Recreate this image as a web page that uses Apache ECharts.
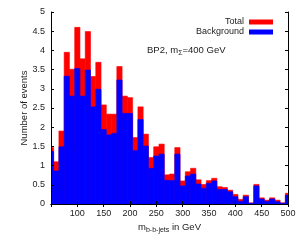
<!DOCTYPE html>
<html>
<head>
<meta charset="utf-8">
<script src="https://cdn.jsdelivr.net/npm/echarts@6/dist/echarts.min.js"></script>
<style>
html,body{margin:0;padding:0;background:#fff;}
#c{width:300px;height:245px;}
</style>
</head>
<body>
<div id="c"></div>
<script>
// Bin centres (GeV), bin width 10 GeV
const binCenters = [50,60,70,80,90,100,110,120,130,140,150,160,170,180,190,200,210,220,230,240,250,260,270,280,290,300,310,320,330,340,350,360,370,380,390,400,410,420,430,440,450,460,470,480,490,500];
const totalEvents = [1.47,1.10,1.90,3.95,3.51,4.60,3.78,4.49,3.32,3.69,2.58,2.34,2.34,3.58,2.81,2.77,1.73,2.53,1.82,1.21,1.49,1.56,0.76,0.78,1.47,0.60,0.84,0.93,0.63,0.51,0.61,0.67,0.45,0.43,0.36,0.25,0.12,0.23,0.03,0.51,0.16,0.10,0.16,0.10,0.03,0.28];
const backgroundEvents = [1.37,0.86,1.49,3.33,2.81,3.53,2.81,3.49,2.53,2.99,1.94,1.80,1.84,3.23,2.36,2.36,1.39,2.20,1.51,0.93,1.25,1.30,0.62,0.61,1.30,0.47,0.73,0.78,0.52,0.41,0.54,0.60,0.38,0.38,0.32,0.19,0.07,0.19,0.02,0.47,0.13,0.07,0.13,0.06,0.02,0.23];
const binWidth = 10;
const xMin = 50, xMax = 500, yMin = 0, yMax = 5;

const chart = echarts.init(document.getElementById('c'), null, {renderer:'canvas'});
const FONT = 'Liberation Sans, Arial, Helvetica, sans-serif';

function histItem(color){
  return function(params, api){
    const c = api.value(0), v = api.value(1);
    const x0 = Math.max(c - binWidth/2, xMin);
    const x1 = Math.min(c + binWidth/2, xMax);
    const p0 = api.coord([x0, v]);
    const p1 = api.coord([x1, 0]);
    return {type:'rect', shape:{x:p0[0], y:p0[1], width:p1[0]-p0[0], height:p1[1]-p0[1]},
            style:{fill:color, stroke:color, lineWidth:0.6}};
  };
}

const axisLineStyle = {show:true, lineStyle:{color:'#000', width:1}};
const tickStyle = {show:true, inside:true, length:3, lineStyle:{color:'#000', width:1}};

chart.setOption({
  animation:false,
  backgroundColor:'#fff',
  textStyle:{fontFamily:FONT},
  grid:{left:51, right:12, top:12, bottom:41, containLabel:false},
  legend:{
    orient:'vertical', right:22, top:12, align:'right',
    itemWidth:24, itemHeight:5, itemGap:0,
    icon:'rect',
    textStyle:{fontSize:9, color:'#222', fontFamily:FONT, lineHeight:10, padding:[0,0,0,0]},
    data:['Total','Background']
  },
  xAxis:[
    {type:'value', min:xMin, max:xMax, interval:50, position:'bottom', z:10,
     axisLine:axisLineStyle, axisTick:tickStyle, splitLine:{show:false},
     axisLabel:{color:'#222', fontSize:9, margin:5, fontFamily:FONT, formatter:v => v===50 ? '' : String(v)},
     name:'{m|m}{s|b-b-jets}{m| in GeV}', nameLocation:'middle', nameGap:18, nameMoveOverlap:false,
     nameTextStyle:{rich:{
       m:{fontSize:9.5, color:'#222', fontFamily:FONT, verticalAlign:'top', lineHeight:11},
       s:{fontSize:7, color:'#222', fontFamily:FONT, verticalAlign:'top', lineHeight:11, padding:[5,0,0,0]}
     }}},
    {type:'value', min:xMin, max:xMax, interval:50, position:'top', z:10,
     axisLine:axisLineStyle, axisTick:tickStyle, splitLine:{show:false}, axisLabel:{show:false}}
  ],
  yAxis:[
    {type:'value', min:yMin, max:yMax, interval:0.5, position:'left', z:10,
     axisLine:axisLineStyle, axisTick:tickStyle, splitLine:{show:false},
     axisLabel:{color:'#222', fontSize:9, margin:6, fontFamily:FONT},
     name:'Number of events', nameLocation:'middle', nameRotate:90, nameGap:22, nameMoveOverlap:false,
     nameTextStyle:{fontSize:9.5, color:'#222', fontFamily:FONT}},
    {type:'value', min:yMin, max:yMax, interval:0.5, position:'right', z:10,
     axisLine:axisLineStyle, axisTick:tickStyle, splitLine:{show:false}, axisLabel:{show:false}}
  ],
  graphic:[{
    type:'text', left:147, top:45, z:20,
    style:{
      text:'{a|BP2, m}{s|Σ}{a|=400 GeV}',
      rich:{
        a:{fontSize:9.5, fill:'#222', fontFamily:FONT, verticalAlign:'top', lineHeight:12},
        s:{fontSize:7, fill:'#222', fontFamily:FONT, verticalAlign:'top', lineHeight:12, padding:[5,0,0,0]}
      }
    }
  }],
  series:[
    {name:'Total', type:'custom', xAxisIndex:0, yAxisIndex:0, color:'#ff0000',
     renderItem:histItem('#ff0000'), encode:{x:0, y:1}, clip:true, z:2,
     data:binCenters.map((c,i)=>[c, totalEvents[i]])},
    {name:'Background', type:'custom', xAxisIndex:0, yAxisIndex:0, color:'#0000ff',
     renderItem:histItem('#0000ff'), encode:{x:0, y:1}, clip:true, z:3,
     data:binCenters.map((c,i)=>[c, backgroundEvents[i]])}
  ]
});
</script>
</body>
</html>
